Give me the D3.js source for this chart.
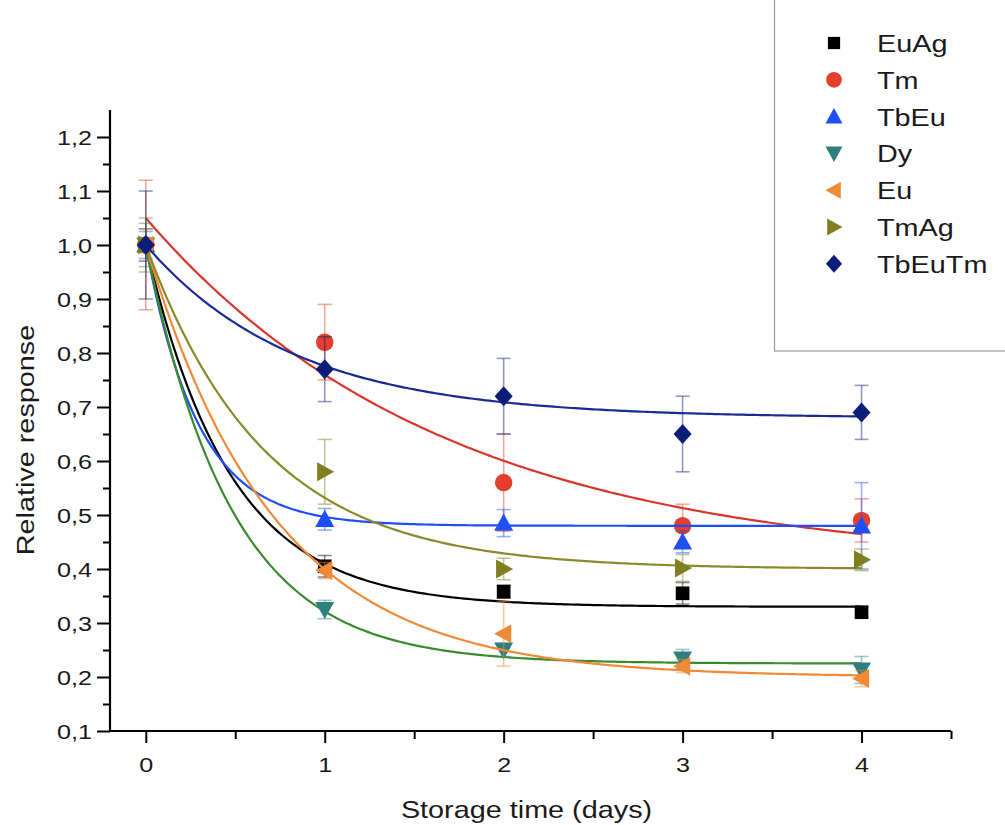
<!DOCTYPE html>
<html>
<head>
<meta charset="utf-8">
<script src="https://cdn.jsdelivr.net/npm/d3@7"></script>
<style>
  body { margin: 0; background: #fff; }
  svg { font-family: "Liberation Sans", Arial, sans-serif; }
</style>
</head>
<body>
<svg id="chart" width="1005" height="825"></svg>
<script>
// storage days
var days = [0, 1, 2, 3, 4];

var seriesNames = ["EuAg", "Tm", "TbEu", "Dy", "Eu", "TmAg", "TbEuTm"];
var markerColors = ["#000000", "#e2402c", "#1f4ef5", "#2f7f80", "#f08a36", "#7f7f22", "#0b1d78"];
var curveColors  = ["#000000", "#d9352b", "#1f4ef5", "#3a8a2f", "#f08a36", "#8a8a2a", "#1a2a95"];
var markerTypes  = ["square", "circle", "triUp", "triDown", "triLeft", "triRight", "diamond"];

// relative response per series
var euAg   = [1.0, 0.405, 0.358, 0.355, 0.32];
var tm     = [1.0, 0.82, 0.56, 0.48, 0.49];
var tbEu   = [1.0, 0.492, 0.485, 0.45, 0.48];
var dy     = [1.0, 0.325, 0.25, 0.233, 0.213];
var eu     = [1.0, 0.397, 0.28, 0.22, 0.197];
var tmAg   = [1.0, 0.58, 0.40, 0.402, 0.417];
var tbEuTm = [1.0, 0.77, 0.72, 0.65, 0.69];

// error bar half widths
var euAgErr   = [0.03, 0.02, 0.012, 0.02, 0.01];
var tmErr     = [0.12, 0.07, 0.09, 0.04, 0.04];
var tbEuErr   = [0.025, 0.02, 0.025, 0.02, 0.08];
var dyErr     = [0.04, 0.017, 0.012, 0.018, 0.025];
var euErr     = [0.03, 0.015, 0.06, 0.012, 0.015];
var tmAgErr   = [0.05, 0.06, 0.02, 0.025, 0.02];
var tbEuTmErr = [0.1, 0.06, 0.07, 0.07, 0.05];

// exponential decay fits y = y0 + A*exp(-x/t)
var fitY0 = [0.33, 0.406, 0.48, 0.225, 0.20, 0.40, 0.68];
var fitA  = [0.67, 0.644, 0.52, 0.775, 0.80, 0.60, 0.32];
var fitT  = [0.47, 1.67, 0.29, 0.48, 0.72, 0.66, 0.83];

var values = [euAg, tm, tbEu, dy, eu, tmAg, tbEuTm];
var errors = [euAgErr, tmErr, tbEuErr, dyErr, euErr, tmAgErr, tbEuTmErr];

// the original picture is a bit wider than tall, text is stretched too
var stretch = 1.2;

var svg = d3.select("#chart");

var x = d3.scaleLinear().domain([-0.2, 4.5]).range([110, 951]);
var y = d3.scaleLinear().domain([0.1, 1.25]).range([731, 110]);

var commaFmt = function(v){ return d3.format(".1f")(v).replace(".", ","); };

// y axis
var yMajor = d3.range(1, 13).map(function(i){ return i / 10; });
var yMinor = d3.range(1, 12).map(function(i){ return i / 10 + 0.05; });
svg.append("g")
  .attr("transform", "translate(110,0)")
  .call(d3.axisLeft(y).tickValues(yMinor).tickSize(7).tickFormat(""))
  .call(function(g){ g.select(".domain").remove(); })
  .selectAll("line").attr("stroke-width", 2);
var yAxis = svg.append("g")
  .attr("transform", "translate(110,0)")
  .call(d3.axisLeft(y).tickValues(yMajor).tickSize(13).tickFormat(commaFmt));
yAxis.select(".domain").attr("stroke-width", 2.2).attr("d", "M0," + y(0.1) + "V" + y(1.25));
yAxis.selectAll("line").attr("stroke-width", 2);
yAxis.selectAll("text")
  .attr("font-size", 21)
  .attr("fill", "#1a1a1a")
  .attr("x", -18 / stretch)
  .attr("dy", "0.36em")
  .attr("transform", "scale(" + stretch + ",1)");

// x axis
var xMajor = [0, 1, 2, 3, 4];
var xMinor = [0.5, 1.5, 2.5, 3.5, 4.5];
svg.append("g")
  .attr("transform", "translate(0,731)")
  .call(d3.axisBottom(x).tickValues(xMinor).tickSize(8).tickFormat(""))
  .call(function(g){ g.select(".domain").remove(); })
  .selectAll("line").attr("stroke-width", 2);
var xAxis = svg.append("g")
  .attr("transform", "translate(0,731)")
  .call(d3.axisBottom(x).tickValues(xMajor).tickSize(12).tickFormat(d3.format("d")));
xAxis.select(".domain").attr("stroke-width", 2.2).attr("d", "M" + x(-0.2) + ",0H" + x(4.5));
xAxis.selectAll("line").attr("stroke-width", 2);
xAxis.selectAll(".tick").each(function(d){
  var t = d3.select(this).select("text");
  t.attr("font-size", 21)
    .attr("fill", "#1a1a1a")
    .attr("y", 41)
    .attr("dy", null)
    .attr("transform", "scale(" + stretch + ",1)");
});

// axis titles
svg.append("text")
  .attr("transform", "translate(" + ((x(-0.2) + x(4.5)) / 2 - 4) + ",818) scale(" + stretch + ",1)")
  .attr("text-anchor", "middle")
  .attr("font-size", 24)
  .attr("fill", "#1a1a1a")
  .text("Storage time (days)");
svg.append("text")
  .attr("transform", "translate(34,440) rotate(-90) scale(" + stretch + ",1)")
  .attr("text-anchor", "middle")
  .attr("font-size", 24)
  .attr("fill", "#1a1a1a")
  .text("Relative response");

// marker shapes
var symbolPath = function(type, s){
  var h = s / 2;
  if(type == "square") return "M" + (-h*0.72) + "," + (-h*0.72) + "h" + (s*0.72) + "v" + (s*0.72) + "h" + (-s*0.72) + "Z";
  if(type == "circle") return d3.symbol(d3.symbolCircle, Math.PI * h * h * 0.85)();
  if(type == "triUp") return "M0," + (-h) + "L" + h + "," + (h*0.8) + "L" + (-h) + "," + (h*0.8) + "Z";
  if(type == "triDown") return "M0," + h + "L" + h + "," + (-h*0.8) + "L" + (-h) + "," + (-h*0.8) + "Z";
  if(type == "triLeft") return "M" + (-h) + ",0L" + (h*0.8) + "," + (-h) + "L" + (h*0.8) + "," + h + "Z";
  if(type == "triRight") return "M" + h + ",0L" + (-h*0.8) + "," + (-h) + "L" + (-h*0.8) + "," + h + "Z";
  if(type == "diamond") return "M0," + (-h*1.05) + "L" + (h*0.95) + ",0L0," + (h*1.05) + "L" + (-h*0.95) + ",0Z";
};

var curveLine = d3.line()
  .x(function(d){ return x(d[0]); })
  .y(function(d){ return y(d[1]); })
  .curve(d3.curveLinear);

var plot = svg.append("g").attr("class", "plot");

seriesNames.forEach(function(name, i){
  var g = plot.append("g").attr("class", "series-" + name);
  var pts = days.map(function(d, j){ return {x: d, v: values[i][j], e: errors[i][j]}; });

  // error bars
  var eb = g.selectAll(".err").data(pts).enter().append("g")
    .attr("stroke", markerColors[i])
    .attr("stroke-opacity", 0.45)
    .attr("stroke-width", 1.6);
  eb.append("line")
    .attr("x1", function(d){ return x(d.x); })
    .attr("x2", function(d){ return x(d.x); })
    .attr("y1", function(d){ return y(d.v - d.e); })
    .attr("y2", function(d){ return y(d.v + d.e); });
  eb.append("line")
    .attr("x1", function(d){ return x(d.x) - 7; })
    .attr("x2", function(d){ return x(d.x) + 7; })
    .attr("y1", function(d){ return y(d.v + d.e); })
    .attr("y2", function(d){ return y(d.v + d.e); });
  eb.append("line")
    .attr("x1", function(d){ return x(d.x) - 7; })
    .attr("x2", function(d){ return x(d.x) + 7; })
    .attr("y1", function(d){ return y(d.v - d.e); })
    .attr("y2", function(d){ return y(d.v - d.e); });

  // fitted decay curve
  var fitPts = d3.range(0, 4.001, 0.02).map(function(t){
    return [t, fitY0[i] + fitA[i] * Math.exp(-t / fitT[i])];
  });
  g.append("path")
    .datum(fitPts)
    .attr("d", curveLine)
    .attr("fill", "none")
    .attr("stroke", curveColors[i])
    .attr("stroke-width", 2.2);

  // markers
  g.selectAll(".mk").data(pts).enter().append("path")
    .attr("transform", function(d){ return "translate(" + x(d.x) + "," + y(d.v) + ")"; })
    .attr("d", symbolPath(markerTypes[i], 19))
    .attr("fill", markerColors[i]);
});

// legend box
svg.append("rect")
  .attr("x", 774.5)
  .attr("y", -5)
  .attr("width", 240)
  .attr("height", 356)
  .attr("fill", "#fff")
  .attr("stroke", "#999")
  .attr("stroke-width", 1.2);

var legend = svg.append("g").attr("class", "legend");
seriesNames.forEach(function(name, i){
  var ly = 43 + i * 36.8;
  legend.append("path")
    .attr("transform", "translate(834," + ly + ")")
    .attr("d", symbolPath(markerTypes[i], 17))
    .attr("fill", markerColors[i]);
  legend.append("text")
    .attr("transform", "translate(877," + (ly + 9) + ") scale(" + stretch + ",1)")
    .attr("font-size", 24)
    .attr("fill", "#1a1a1a")
    .text(name);
});
</script>
</body>
</html>
